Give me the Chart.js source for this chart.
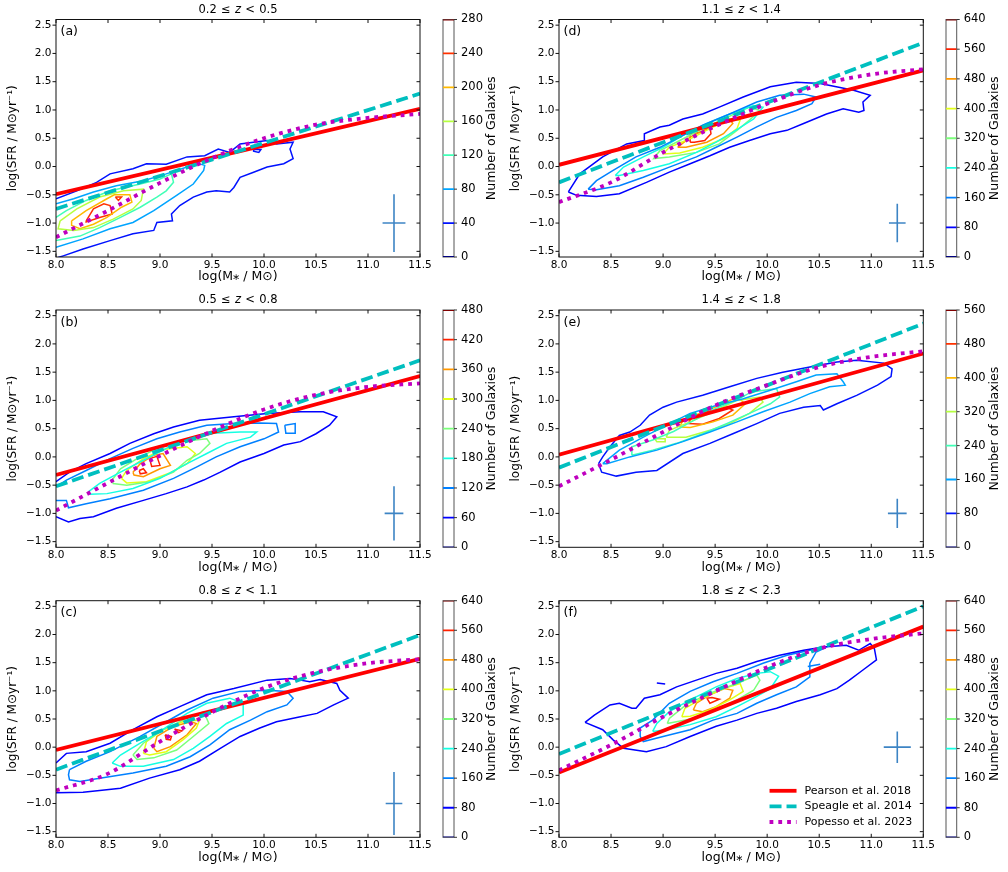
<!DOCTYPE html>
<html>
<head>
<meta charset="utf-8">
<script src="https://cdn.jsdelivr.net/npm/chart.js@4.4.1/dist/chart.umd.min.js"></script>
<style>
  body { margin: 0; background: #fff; width: 1008px; height: 872px; position: relative; overflow: hidden; }
  canvas { position: absolute; }
</style>
</head>
<body>
<script>
// ---- data ----
const massTicks = [8.0, 8.5, 9.0, 9.5, 10.0, 10.5, 11.0, 11.5];
const sfrTicks = [-1.5, -1.0, -0.5, 0.0, 0.5, 1.0, 1.5, 2.0, 2.5];
const lineX = [8.0, 11.5];
const popessoX = [8.0, 8.5, 9.0, 9.5, 10.0, 10.5, 11.0, 11.5];

const panelLetters = ['(a)', '(b)', '(c)', '(d)', '(e)', '(f)'];
const zLow = ['0.2', '0.5', '0.8', '1.1', '1.4', '1.8'];
const zHigh = ['0.5', '0.8', '1.1', '1.4', '1.8', '2.3'];
const legendLabels = ['Pearson et al. 2018', 'Speagle et al. 2014', 'Popesso et al. 2023'];

const levelsA = [0, 40, 80, 120, 160, 200, 240, 280];
const levelsB = [0, 60, 120, 180, 240, 300, 360, 420, 480];
const levelsC = [0, 80, 160, 240, 320, 400, 480, 560, 640];
const levelsD = [0, 80, 160, 240, 320, 400, 480, 560, 640];
const levelsE = [0, 80, 160, 240, 320, 400, 480, 560];
const levelsF = [0, 80, 160, 240, 320, 400, 480, 560, 640];

// Pearson et al. 2018 and Speagle et al. 2014 at log M = 8.0 and 11.5
const pearsonA = [-0.49, 1.02], speagleA = [-0.75, 1.29];
const pearsonB = [-0.32, 1.43], speagleB = [-0.52, 1.71];
const pearsonC = [-0.05, 1.57], speagleC = [-0.40, 1.99];
const pearsonD = [0.03, 1.70],  speagleD = [-0.28, 2.19];
const pearsonE = [0.04, 1.83],  speagleE = [-0.19, 2.36];
const pearsonF = [-0.45, 2.14], speagleF = [-0.12, 2.50];

// Popesso et al. 2023 at popessoX
const popessoA = [-1.25, -0.78, -0.29, 0.15, 0.50, 0.74, 0.86, 0.93];
const popessoB = [-0.95, -0.46, 0.02, 0.46, 0.84, 1.10, 1.24, 1.30];
const popessoC = [-0.77, -0.47, 0.10, 0.62, 1.05, 1.33, 1.49, 1.56];
const popessoD = [-0.63, -0.28, 0.25, 0.71, 1.11, 1.44, 1.63, 1.72];
const popessoE = [-0.52, -0.05, 0.44, 0.91, 1.27, 1.59, 1.77, 1.87];
const popessoF = [-0.41, 0.04, 0.54, 0.99, 1.42, 1.75, 1.92, 2.02];

// typical error: [log M, log SFR, x error, y error]
const errA = [11.25, -1.0, 0.11, 0.51];
const errB = [11.25, -1.0, 0.09, 0.48];
const errC = [11.25, -1.0, 0.08, 0.56];
const errD = [11.25, -1.0, 0.08, 0.34];
const errE = [11.25, -1.0, 0.09, 0.26];
const errF = [11.25, 0.0, 0.13, 0.28];

// contour lines: level, open (runs off an edge) or closed, points [log M, log SFR]
const contoursA = [
  { level: 40, open: true, pts: [[8,-0.57],[8.2,-0.43],[8.39,-0.28],[8.52,-0.13],[8.74,-0.04],[8.87,0.05],[9.06,0.04],[9.26,0.17],[9.43,0.19],[9.56,0.31],[9.67,0.25],[9.77,0.40],[9.9,0.43],[10.03,0.46],[10.12,0.40],[10.28,0.43],[10.25,0.31],[10.28,0.14],[10.19,0.05],[10.03,-0.01],[9.9,-0.1],[9.77,-0.19],[9.71,-0.37],[9.67,-0.45],[9.54,-0.43],[9.45,-0.45],[9.32,-0.54],[9.19,-0.69],[9.11,-0.84],[9.12,-0.96],[8.97,-0.99],[8.94,-1.13],[8.74,-1.19],[8.52,-1.31],[8.26,-1.46],[8.07,-1.58],[8.02,-1.61]] },
  { level: 40, open: false, pts: [[9.9,0.30],[9.97,0.30],[9.95,0.25],[9.9,0.27]] },
  { level: 80, open: true, pts: [[8,-1.43],[8.26,-1.28],[8.52,-1.10],[8.74,-0.99],[8.94,-0.78],[9.16,-0.51],[9.32,-0.31],[9.42,-0.07],[9.43,0.02],[9.38,0.05],[9.26,-0.01],[9.06,-0.13],[8.84,-0.25],[8.58,-0.34],[8.36,-0.45],[8.17,-0.57],[8,-0.66]] },
  { level: 120, open: true, pts: [[8,-0.90],[8.1,-0.78],[8.29,-0.60],[8.52,-0.43],[8.81,-0.31],[9.0,-0.22],[9.11,-0.13],[9.13,-0.28],[9.06,-0.43],[8.97,-0.54],[8.81,-0.72],[8.62,-0.90],[8.42,-1.08],[8.23,-1.23],[8,-1.31]] },
  { level: 160, open: false, pts: [[8.04,-0.96],[8.2,-0.75],[8.42,-0.54],[8.65,-0.43],[8.84,-0.40],[8.82,-0.60],[8.74,-0.75],[8.55,-0.93],[8.36,-1.08],[8.17,-1.13],[8.02,-1.10]] },
  { level: 200, open: false, pts: [[8.15,-0.96],[8.29,-0.78],[8.49,-0.57],[8.56,-0.50],[8.71,-0.50],[8.73,-0.63],[8.63,-0.72],[8.49,-0.90],[8.36,-1.02],[8.23,-1.10],[8.15,-1.04]] },
  { level: 240, open: false, pts: [[8.29,-0.96],[8.36,-0.75],[8.46,-0.66],[8.52,-0.69],[8.54,-0.84],[8.42,-0.90],[8.29,-0.98]] },
  { level: 240, open: false, pts: [[8.57,-0.54],[8.63,-0.54],[8.6,-0.6]] }
];

const contoursB = [
  { level: 60, open: true, pts: [[8,-0.44],[8.13,-0.27],[8.29,-0.12],[8.52,0.06],[8.71,0.24],[8.94,0.41],[9.13,0.53],[9.38,0.65],[9.71,0.71],[10.03,0.77],[10.35,0.80],[10.57,0.80],[10.7,0.71],[10.63,0.56],[10.5,0.41],[10.35,0.27],[10.19,0.21],[10.0,0.06],[9.77,-0.09],[9.58,-0.27],[9.42,-0.41],[9.26,-0.53],[9.06,-0.65],[8.84,-0.77],[8.58,-0.91],[8.36,-1.06],[8.23,-1.09],[8.12,-1.15],[8,-1.06]] },
  { level: 120, open: true, pts: [[8,-0.53],[8.1,-0.41],[8.29,-0.24],[8.52,-0.03],[8.74,0.15],[8.97,0.32],[9.19,0.44],[9.45,0.56],[9.71,0.59],[9.96,0.60],[10.12,0.59],[10.14,0.44],[10.0,0.32],[9.77,0.18],[9.54,0.0],[9.35,-0.18],[9.13,-0.38],[8.84,-0.59],[8.52,-0.74],[8.29,-0.83],[8.12,-0.90],[8.1,-0.77],[8,-0.77]] },
  { level: 120, open: false, pts: [[10.2,0.56],[10.3,0.59],[10.3,0.42],[10.21,0.42]] },
  { level: 180, open: false, pts: [[8.31,-0.62],[8.42,-0.47],[8.62,-0.27],[8.84,-0.06],[9.06,0.15],[9.26,0.32],[9.51,0.42],[9.77,0.44],[9.93,0.44],[9.87,0.35],[9.64,0.24],[9.45,0.06],[9.26,-0.12],[9.0,-0.38],[8.74,-0.56],[8.49,-0.65],[8.33,-0.66]] },
  { level: 240, open: false, pts: [[8.54,-0.41],[8.62,-0.21],[8.78,-0.03],[8.97,0.15],[9.19,0.27],[9.45,0.32],[9.48,0.24],[9.38,0.06],[9.26,-0.06],[9.13,-0.27],[8.9,-0.44],[8.68,-0.50],[8.55,-0.47]] },
  { level: 300, open: false, pts: [[8.63,-0.38],[8.68,-0.24],[8.84,-0.03],[9.03,0.13],[9.26,0.18],[9.34,0.06],[9.26,-0.12],[9.1,-0.28],[8.87,-0.44],[8.68,-0.46]] },
  { level: 360, open: false, pts: [[8.74,-0.27],[8.81,-0.12],[8.94,0.03],[9.03,0.06],[9.1,-0.15],[9.0,-0.21],[8.84,-0.35],[8.75,-0.32]] },
  { level: 420, open: false, pts: [[8.9,-0.03],[8.97,0.01],[9.0,-0.15],[8.92,-0.17]] },
  { level: 420, open: false, pts: [[8.8,-0.24],[8.84,-0.21],[8.87,-0.28],[8.81,-0.30]] }
];

const contoursC = [
  { level: 80, open: true, pts: [[8,-0.28],[8.1,-0.11],[8.29,-0.08],[8.52,0.07],[8.74,0.31],[8.97,0.54],[9.19,0.72],[9.45,0.93],[9.71,1.04],[10.03,1.19],[10.25,1.22],[10.35,1.19],[10.44,1.16],[10.54,1.2],[10.7,1.13],[10.73,1.01],[10.81,0.87],[10.67,0.75],[10.51,0.60],[10.35,0.54],[10.12,0.45],[9.96,0.34],[9.77,0.19],[9.58,-0.02],[9.38,-0.25],[9.19,-0.40],[8.9,-0.55],[8.62,-0.73],[8.42,-0.77],[8.26,-0.80],[8,-0.81]] },
  { level: 160, open: false, pts: [[8.13,-0.40],[8.29,-0.25],[8.52,-0.08],[8.81,0.19],[9.03,0.42],[9.26,0.66],[9.51,0.87],[9.77,0.99],[10.03,1.01],[10.22,0.99],[10.28,0.87],[10.22,0.75],[10.03,0.63],[9.87,0.48],[9.67,0.31],[9.48,0.04],[9.29,-0.17],[9.06,-0.34],[8.74,-0.46],[8.42,-0.55],[8.23,-0.61],[8.13,-0.58],[8.12,-0.49]] },
  { level: 240, open: false, pts: [[8.54,-0.28],[8.62,-0.14],[8.81,0.07],[9.0,0.28],[9.26,0.60],[9.45,0.78],[9.67,0.87],[9.8,0.78],[9.8,0.57],[9.64,0.42],[9.48,0.19],[9.32,-0.02],[9.13,-0.22],[8.84,-0.34],[8.62,-0.34]] },
  { level: 320, open: false, pts: [[8.74,-0.14],[8.84,0.07],[9.0,0.28],[9.22,0.48],[9.42,0.63],[9.47,0.42],[9.32,0.19],[9.16,-0.05],[8.94,-0.19],[8.78,-0.22]] },
  { level: 400, open: false, pts: [[8.84,-0.11],[8.87,0.10],[9.03,0.31],[9.22,0.45],[9.38,0.48],[9.35,0.34],[9.22,0.13],[9.06,-0.08],[8.9,-0.14]] },
  { level: 480, open: false, pts: [[8.94,-0.02],[8.97,0.19],[9.13,0.37],[9.3,0.45],[9.35,0.42],[9.26,0.22],[9.1,0.01],[8.97,-0.08]] },
  { level: 560, open: false, pts: [[9.05,0.22],[9.11,0.19],[9.1,0.13],[9.06,0.14]] },
  { level: 560, open: false, pts: [[9.14,0.32],[9.21,0.29],[9.18,0.26]] }
];

const contoursD = [
  { level: 80, open: false, pts: [[8.09,-0.45],[8.2,-0.13],[8.42,0.17],[8.65,0.40],[8.82,0.46],[8.82,0.58],[8.97,0.70],[9.06,0.73],[9.19,0.84],[9.38,0.93],[9.54,1.05],[9.77,1.23],[10.03,1.41],[10.28,1.49],[10.51,1.47],[10.83,1.35],[10.99,1.26],[10.92,1.14],[10.93,0.99],[10.88,0.96],[10.73,1.02],[10.57,0.93],[10.35,0.76],[10.19,0.64],[10.03,0.58],[9.83,0.46],[9.64,0.34],[9.45,0.19],[9.26,0.05],[9.06,-0.10],[8.84,-0.28],[8.58,-0.48],[8.36,-0.53],[8.17,-0.51]] },
  { level: 160, open: false, pts: [[8.28,-0.40],[8.36,-0.25],[8.52,-0.07],[8.74,0.17],[8.97,0.34],[9.16,0.52],[9.38,0.73],[9.64,0.93],[9.9,1.14],[10.12,1.26],[10.35,1.28],[10.47,1.23],[10.43,1.11],[10.28,0.99],[10.09,0.87],[9.9,0.70],[9.71,0.52],[9.51,0.34],[9.32,0.17],[9.06,-0.01],[8.81,-0.19],[8.58,-0.34],[8.36,-0.41]] },
  { level: 240, open: false, pts: [[8.54,-0.16],[8.62,-0.01],[8.81,0.17],[9.0,0.34],[9.19,0.55],[9.42,0.76],[9.64,0.93],[9.87,1.08],[9.96,1.05],[9.87,0.84],[9.67,0.61],[9.51,0.43],[9.32,0.25],[9.06,0.05],[8.81,-0.07],[8.58,-0.16]] },
  { level: 320, open: false, pts: [[8.92,0.17],[8.97,0.28],[9.16,0.46],[9.35,0.64],[9.58,0.84],[9.83,1.05],[9.93,0.99],[9.83,0.82],[9.71,0.64],[9.54,0.40],[9.32,0.25],[9.06,0.17],[8.91,0.14]] },
  { level: 400, open: false, pts: [[9.0,0.22],[9.06,0.34],[9.26,0.49],[9.45,0.67],[9.64,0.84],[9.74,0.82],[9.71,0.67],[9.58,0.49],[9.38,0.34],[9.16,0.24]] },
  { level: 480, open: false, pts: [[9.14,0.34],[9.26,0.52],[9.45,0.70],[9.64,0.84],[9.67,0.76],[9.58,0.58],[9.42,0.43],[9.22,0.34]] },
  { level: 560, open: false, pts: [[9.26,0.43],[9.26,0.58],[9.38,0.61],[9.45,0.71],[9.46,0.58],[9.4,0.46],[9.3,0.43]] }
];

const contoursE = [
  { level: 80, open: false, pts: [[8.38,-0.12],[8.42,0.0],[8.49,0.18],[8.58,0.38],[8.68,0.44],[8.78,0.56],[8.87,0.74],[9.0,0.88],[9.13,0.97],[9.38,1.09],[9.64,1.24],[9.9,1.39],[10.15,1.50],[10.41,1.59],[10.67,1.68],[10.86,1.71],[11.12,1.66],[11.2,1.56],[11.19,1.42],[11.06,1.27],[10.86,1.09],[10.67,0.94],[10.54,0.83],[10.51,0.91],[10.35,0.88],[10.12,0.77],[9.9,0.59],[9.67,0.41],[9.45,0.24],[9.19,0.06],[8.94,-0.24],[8.74,-0.27],[8.55,-0.34],[8.41,-0.27]] },
  { level: 160, open: false, pts: [[8.42,-0.12],[8.58,0.12],[8.81,0.35],[9.0,0.53],[9.26,0.77],[9.51,0.91],[9.77,1.03],[10.03,1.18],[10.28,1.33],[10.47,1.45],[10.67,1.47],[10.73,1.33],[10.75,1.27],[10.6,1.24],[10.41,1.12],[10.22,0.97],[9.96,0.80],[9.71,0.62],[9.45,0.44],[9.19,0.27],[8.94,0.12],[8.68,0.0],[8.46,-0.12]] },
  { level: 240, open: false, pts: [[8.7,0.03],[8.7,0.18],[8.9,0.30],[9.1,0.45],[9.3,0.65],[9.5,0.85],[9.7,1.0],[9.85,1.15],[10.09,1.21],[10.12,1.06],[10.03,0.94],[9.83,0.77],[9.61,0.59],[9.38,0.41],[9.13,0.24],[8.9,0.12]] },
  { level: 320, open: false, pts: [[9.03,0.35],[9.06,0.47],[9.26,0.62],[9.48,0.80],[9.71,1.0],[9.93,1.06],[9.96,0.97],[9.83,0.77],[9.64,0.59],[9.45,0.47],[9.22,0.35]] },
  { level: 320, open: false, pts: [[8.92,0.32],[9.02,0.32],[9.02,0.27],[8.94,0.27]] },
  { level: 400, open: false, pts: [[9.16,0.53],[9.19,0.65],[9.35,0.77],[9.54,0.91],[9.71,1.06],[9.79,0.94],[9.67,0.74],[9.48,0.62],[9.26,0.52]] },
  { level: 480, open: false, pts: [[9.24,0.59],[9.27,0.68],[9.42,0.80],[9.61,0.88],[9.67,0.83],[9.54,0.68],[9.38,0.58]] }
];

const contoursF = [
  { level: 80, open: false, pts: [[8.25,0.44],[8.34,0.57],[8.49,0.75],[8.58,0.78],[8.7,0.69],[8.74,0.69],[8.82,0.87],[8.97,0.93],[9.13,1.07],[9.32,1.19],[9.51,1.31],[9.71,1.40],[9.9,1.52],[10.12,1.63],[10.35,1.72],[10.54,1.78],[10.76,1.81],[10.88,1.72],[10.99,1.84],[11.03,1.75],[11.05,1.55],[10.92,1.37],[10.79,1.19],[10.67,1.04],[10.51,0.93],[10.28,0.81],[10.09,0.69],[9.9,0.60],[9.71,0.48],[9.51,0.37],[9.26,0.19],[9.03,0.01],[8.84,-0.08],[8.62,-0.02],[8.52,0.13],[8.42,0.31]] },
  { level: 80, open: true, pts: [[8.94,1.14],[9.02,1.12]] },
  { level: 160, open: false, pts: [[8.78,0.19],[8.78,0.34],[8.9,0.48],[9.06,0.78],[9.26,0.99],[9.48,1.16],[9.71,1.31],[9.96,1.49],[10.19,1.63],[10.41,1.72],[10.54,1.75],[10.47,1.69],[10.41,1.49],[10.41,1.25],[10.28,1.07],[10.09,0.93],[9.9,0.78],[9.71,0.60],[9.48,0.48],[9.26,0.31],[9.0,0.19],[8.81,0.10]] },
  { level: 160, open: true, pts: [[10.39,1.43],[10.51,1.47]] },
  { level: 240, open: false, pts: [[8.9,0.28],[8.94,0.42],[9.06,0.63],[9.26,0.84],[9.51,1.07],[9.71,1.22],[9.9,1.31],[10.03,1.34],[10.11,1.26],[10.03,1.04],[9.9,0.90],[9.71,0.72],[9.51,0.54],[9.26,0.40],[9.03,0.31]] },
  { level: 320, open: false, pts: [[9.04,0.42],[9.06,0.51],[9.22,0.75],[9.45,0.96],[9.71,1.13],[9.9,1.28],[9.93,1.19],[9.87,1.01],[9.71,0.84],[9.51,0.66],[9.29,0.51]] },
  { level: 400, open: false, pts: [[9.18,0.54],[9.21,0.69],[9.38,0.87],[9.58,1.04],[9.74,1.13],[9.77,0.99],[9.64,0.84],[9.45,0.66],[9.26,0.55]] },
  { level: 480, open: false, pts: [[9.29,0.66],[9.32,0.78],[9.45,0.93],[9.59,1.04],[9.67,1.01],[9.64,0.87],[9.51,0.72],[9.38,0.63]] },
  { level: 560, open: false, pts: [[9.42,0.87],[9.45,0.78],[9.54,0.85],[9.47,0.88]] }
];

// ---- page layout ----
const FONT = 'DejaVu Sans';
Chart.defaults.font.family = FONT;
Chart.defaults.color = '#000';

const colX = [0, 503];
const plotL = [56, 559];
const plotR = [420, 923.3];
const rowY = [0, 290, 580];
const rowH = [290, 290, 292];
const plotT = [19.5, 310, 600.7];
const plotB = [257, 547.3, 837.3];
const cbL = [443, 946.3];
const cbR = [454, 957];
const Y_AXIS_W = 50, X_AXIS_H = 32, PANEL_W = 440;

const panels = [
  { col: 0, row: 0, levels: levelsA, contours: contoursA, pearson: pearsonA, speagle: speagleA, popesso: popessoA, err: errA },
  { col: 0, row: 1, levels: levelsB, contours: contoursB, pearson: pearsonB, speagle: speagleB, popesso: popessoB, err: errB },
  { col: 0, row: 2, levels: levelsC, contours: contoursC, pearson: pearsonC, speagle: speagleC, popesso: popessoC, err: errC },
  { col: 1, row: 0, levels: levelsD, contours: contoursD, pearson: pearsonD, speagle: speagleD, popesso: popessoD, err: errD },
  { col: 1, row: 1, levels: levelsE, contours: contoursE, pearson: pearsonE, speagle: speagleE, popesso: popessoE, err: errE },
  { col: 1, row: 2, levels: levelsF, contours: contoursF, pearson: pearsonF, speagle: speagleF, popesso: popessoF, err: errF }
];

// matplotlib 'jet'
function jet(t) {
  const seg = (pts) => {
    for (let i = 1; i < pts.length; i++) {
      if (t <= pts[i][0]) {
        const [x0, y0] = pts[i - 1], [x1, y1] = pts[i];
        return y0 + (y1 - y0) * (t - x0) / (x1 - x0);
      }
    }
    return pts[pts.length - 1][1];
  };
  const r = seg([[0, 0], [0.35, 0], [0.66, 1], [0.89, 1], [1, 0.5]]);
  const g = seg([[0, 0], [0.125, 0], [0.375, 1], [0.64, 1], [0.91, 0], [1, 0]]);
  const b = seg([[0, 0.5], [0.11, 1], [0.34, 1], [0.65, 0], [1, 0]]);
  return `rgb(${Math.round(r * 255)},${Math.round(g * 255)},${Math.round(b * 255)})`;
}

const fmtTick = v => (v < 0 ? '\u2212' + Math.abs(v).toFixed(1) : v.toFixed(1));

function makeCanvas(left, top, w, h) {
  const c = document.createElement('canvas');
  c.width = w; c.height = h;
  c.style.left = left + 'px'; c.style.top = top + 'px';
  c.style.width = w + 'px'; c.style.height = h + 'px';
  document.body.appendChild(c);
  return c;
}

// frame, ticks, title, panel letter and legend
const decorPlugin = {
  id: 'decor',
  afterDraw(chart, args, o) {
    const { ctx, chartArea: a, scales } = chart;
    ctx.save();
    ctx.strokeStyle = '#111';
    ctx.lineWidth = 1;
    ctx.strokeRect(a.left, a.top, a.right - a.left, a.bottom - a.top);
    ctx.beginPath();
    scales.x.ticks.forEach(t => {
      const px = scales.x.getPixelForValue(t.value);
      ctx.moveTo(px, a.bottom); ctx.lineTo(px, a.bottom - 3.5);
      ctx.moveTo(px, a.top); ctx.lineTo(px, a.top + 3.5);
    });
    scales.y.ticks.forEach(t => {
      const py = scales.y.getPixelForValue(t.value);
      ctx.moveTo(a.left - 3.5, py); ctx.lineTo(a.left, py);
      ctx.moveTo(a.right, py); ctx.lineTo(a.right - 3.5, py);
    });
    ctx.stroke();

    // title: lo ≤ z < hi, with italic z and mathtext-like spacing
    const normal = '11.5px ' + FONT, italic = 'italic 11.5px ' + FONT, gap = 4.3;
    const parts = [[o.lo, normal], ['\u2264', normal], ['z', italic], ['<', normal], [o.hi, normal]];
    let total = gap * (parts.length - 1);
    parts.forEach(p => { ctx.font = p[1]; total += ctx.measureText(p[0]).width; });
    let x = (a.left + a.right) / 2 - total / 2;
    ctx.fillStyle = '#000';
    ctx.textBaseline = 'middle';
    ctx.textAlign = 'left';
    parts.forEach(p => { ctx.font = p[1]; ctx.fillText(p[0], x, a.top - 9.5); x += ctx.measureText(p[0]).width + gap; });

    ctx.font = '12.5px ' + FONT;
    ctx.fillText(o.letter, a.left + 4.5, a.top + 12.5);

    if (o.legend) {
      ctx.font = '11px ' + FONT;
      const tw = Math.max(...legendLabels.map(l => ctx.measureText(l).width));
      const textX = a.right - 11 - tw;
      legendLabels.forEach((label, i) => {
        const ds = chart.data.datasets.find(d => d.label === label);
        const y = a.bottom - 46.5 + i * 15.6;
        ctx.save();
        ctx.strokeStyle = ds.borderColor;
        ctx.lineWidth = ds.borderWidth;
        ctx.setLineDash(ds.borderDash || []);
        ctx.beginPath();
        ctx.moveTo(textX - 35, y); ctx.lineTo(textX - 8, y);
        ctx.stroke();
        ctx.restore();
        ctx.fillText(label, textX, y);
      });
    }
    ctx.restore();
  }
};

// colorbar frame, ticks and label
const cbPlugin = {
  id: 'cbar',
  beforeDatasetsDraw(chart) {
    const { ctx, chartArea: a } = chart;
    ctx.save();
    ctx.strokeStyle = '#555';
    ctx.lineWidth = 1;
    ctx.strokeRect(a.left, a.top, a.right - a.left, a.bottom - a.top);
    ctx.restore();
  },
  afterDraw(chart, args, o) {
    const { ctx, chartArea: a, scales } = chart;
    ctx.save();
    ctx.strokeStyle = '#333';
    ctx.lineWidth = 1;
    ctx.beginPath();
    scales.y.ticks.forEach(t => {
      const py = scales.y.getPixelForValue(t.value);
      ctx.moveTo(a.right, py); ctx.lineTo(a.right + 3, py);
    });
    ctx.stroke();
    ctx.translate(a.right + 38, (a.top + a.bottom) / 2);
    ctx.rotate(-Math.PI / 2);
    ctx.font = '12.5px ' + FONT;
    ctx.fillStyle = '#000';
    ctx.textAlign = 'center';
    ctx.textBaseline = 'middle';
    ctx.fillText('Number of Galaxies', 0, 0);
    ctx.restore();
  }
};

function lineDataset(label, xs, ys, color, dash, order) {
  return {
    label,
    data: xs.map((x, i) => ({ x, y: ys[i] })),
    showLine: true,
    borderColor: color,
    borderWidth: 3.8,
    borderDash: dash,
    borderCapStyle: 'butt',
    pointRadius: 0,
    cubicInterpolationMode: 'monotone',
    order
  };
}

panels.forEach((p, idx) => {
  const n = p.levels.length;
  const datasets = [];
  datasets.push(lineDataset('Pearson et al. 2018', lineX, p.pearson, '#ff0000', [], 0.2));
  datasets.push(lineDataset('Speagle et al. 2014', lineX, p.speagle, '#00bfbf', [12, 5], 0.1));
  datasets.push(lineDataset('Popesso et al. 2023', popessoX, p.popesso, '#bf00bf', [3.8, 5], 0));

  const [ex, ey, exErr, eyErr] = p.err;
  [[{ x: ex - exErr, y: ey }, { x: ex + exErr, y: ey }], [{ x: ex, y: ey - eyErr }, { x: ex, y: ey + eyErr }]].forEach(seg => {
    datasets.push({ data: seg, showLine: true, borderColor: '#3d84c4', borderWidth: 1.6, pointRadius: 0, order: 1 });
  });

  p.contours.forEach(c => {
    const pts = c.pts.map(([x, y]) => ({ x, y }));
    if (!c.open) pts.push(pts[0]);
    datasets.push({
      data: pts, showLine: true, borderColor: jet(p.levels.indexOf(c.level) / (n - 1)),
      borderWidth: 1.5, pointRadius: 0, tension: 0, order: 2
    });
  });

  const left = colX[p.col], top = rowY[p.row], h = rowH[p.row];
  const canvas = makeCanvas(left, top, PANEL_W, h);
  new Chart(canvas, {
    type: 'scatter',
    data: { datasets },
    options: {
      responsive: false,
      animation: false,
      events: [],
      layout: {
        padding: {
          left: plotL[p.col] - left - Y_AXIS_W,
          right: PANEL_W - (plotR[p.col] - left),
          top: plotT[p.row] - top,
          bottom: h - (plotB[p.row] - top) - X_AXIS_H
        }
      },
      plugins: {
        legend: { display: false },
        tooltip: { enabled: false },
        decor: { lo: zLow[idx], hi: zHigh[idx], letter: panelLetters[idx], legend: idx === 5 }
      },
      scales: {
        x: {
          type: 'linear', min: 8, max: 11.5,
          afterBuildTicks: s => { s.ticks = massTicks.map(v => ({ value: v })); },
          afterFit: s => { s.height = X_AXIS_H; },
          grid: { display: false, drawTicks: false },
          border: { display: false },
          ticks: { padding: 2, font: { size: 10.5 }, maxRotation: 0, callback: v => fmtTick(v) },
          title: { display: true, text: 'log(M\u204E / M\u2299)', font: { size: 12.5 }, padding: { top: 0, bottom: 4.5 } }
        },
        y: {
          type: 'linear', min: -1.6, max: 2.6,
          afterBuildTicks: s => { s.ticks = sfrTicks.map(v => ({ value: v })); },
          afterFit: s => { s.width = Y_AXIS_W; },
          grid: { display: false, drawTicks: false },
          border: { display: false },
          ticks: { padding: 4.5, font: { size: 10.5 }, callback: v => fmtTick(v) },
          title: { display: true, text: 'log(SFR / M\u2299yr\u207B\u00B9)', font: { size: 12 }, padding: { top: 0, bottom: 0 } }
        }
      }
    },
    plugins: [decorPlugin]
  });

  // colorbar
  const cbLeft = cbL[p.col] - 3;
  const cbW = 62;
  const cbCanvas = makeCanvas(cbLeft, top, cbW, h);
  const cbAxisW = cbW - 3 - (cbR[p.col] - cbL[p.col]);
  new Chart(cbCanvas, {
    type: 'scatter',
    data: {
      datasets: p.levels.map((lv, i) => ({
        data: [{ x: 0, y: lv }, { x: 1, y: lv }],
        showLine: true, borderColor: jet(i / (n - 1)), borderWidth: 1.8, pointRadius: 0
      }))
    },
    options: {
      responsive: false,
      animation: false,
      events: [],
      layout: { padding: { left: 3, right: 0, top: plotT[p.row] - top, bottom: h - (plotB[p.row] - top) } },
      plugins: { legend: { display: false }, tooltip: { enabled: false } },
      scales: {
        x: { type: 'linear', min: 0, max: 1, display: false },
        y: {
          type: 'linear', position: 'right', min: 0, max: p.levels[n - 1],
          afterBuildTicks: s => { s.ticks = p.levels.map(v => ({ value: v })); },
          afterFit: s => { s.width = cbAxisW; },
          grid: { display: false, drawTicks: false },
          border: { display: false },
          ticks: { padding: 7, font: { size: 11.5 }, callback: v => String(v) }
        }
      }
    },
    plugins: [cbPlugin]
  });
});
</script>
</body>
</html>
